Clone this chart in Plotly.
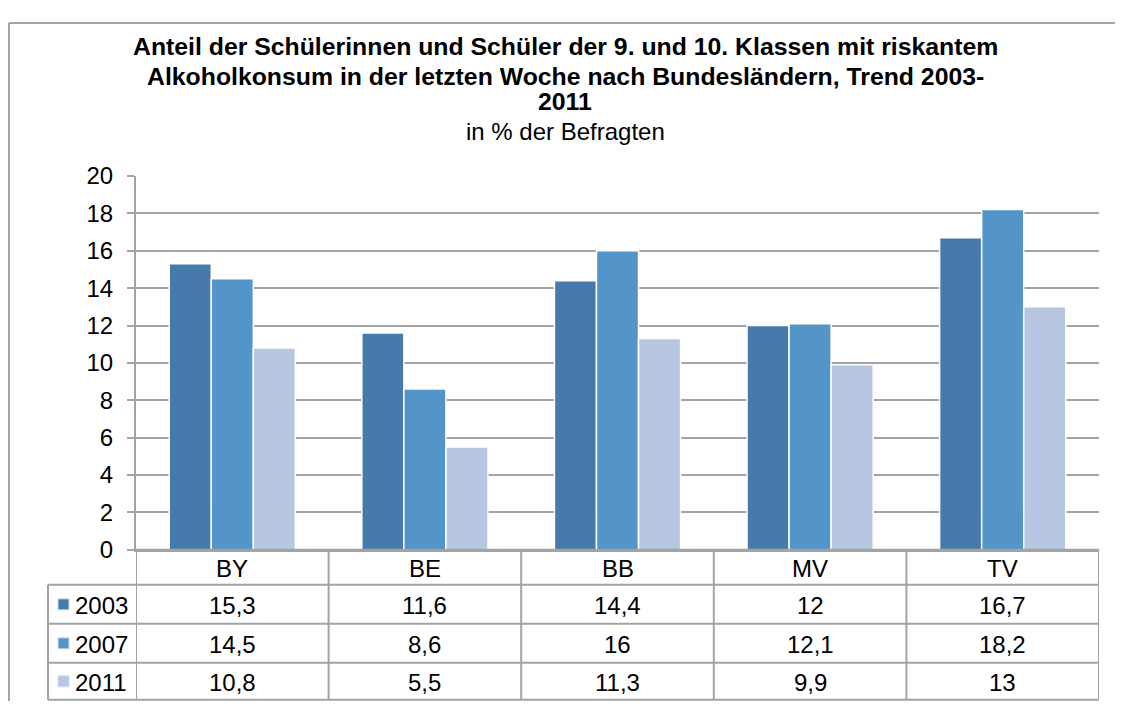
import plotly.graph_objects as go

# ---- data ----
categories = ["BY", "BE", "BB", "MV", "TV"]
years = ["2003", "2007", "2011"]
values_2003 = [15.3, 11.6, 14.4, 12.0, 16.7]
values_2007 = [14.5, 8.6, 16.0, 12.1, 18.2]
values_2011 = [10.8, 5.5, 11.3, 9.9, 13.0]
series = [values_2003, values_2007, values_2011]
colors = ["#457AAA", "#5394C9", "#B7C7E1"]

title_lines = [
    "Anteil der Schülerinnen und Schüler der 9. und 10. Klassen mit riskantem",
    "Alkoholkonsum in der letzten Woche nach Bundesländern, Trend 2003-",
    "2011",
]
subtitle = "in % der Befragten"

# figure size and how it lands in the photographed page
W, H = 1107, 706
OFFX = 8
OFFY, SY = 21.0, 0.962
FONT = "Liberation Sans"
GRID = "#A3A3A3"


def px(x):
    return (x - OFFX) / W


def py(y):
    return 1 - ((y - OFFY) / SY) / H


def fmt(v):
    return f"{v:g}".replace(".", ",")


fig = go.Figure()
for yr, vals, col in zip(years, series, colors):
    fig.add_trace(go.Bar(
        x=categories, y=vals, name=yr,
        marker=dict(color=col, line=dict(color="white", width=1.5)),
        showlegend=False,
    ))

# geometry measured on the reference picture (pixels)
X0, X1 = 136, 1099
Y_TOP, Y_ZERO = 175, 549
ROWS = [549, 584, 623, 662, 699]
LEG_X = 48

shapes = []
annotations = []

# outer frame (top and left)
shapes.append(dict(type="line", xref="paper", yref="paper", x0=px(OFFX + 1), x1=1,
                   y0=0.9985, y1=0.9985, line=dict(color="#A6A6A6", width=2)))
shapes.append(dict(type="line", xref="paper", yref="paper", x0=px(OFFX + 1), x1=px(OFFX + 1),
                   y0=0.9985, y1=0, line=dict(color="#A6A6A6", width=2)))

# data table: horizontal lines
for i, yy in enumerate(ROWS):
    xs = X0 if i == 0 else LEG_X
    shapes.append(dict(type="line", xref="paper", yref="paper", x0=px(xs), x1=px(X1),
                       y0=py(yy), y1=py(yy), line=dict(color=GRID, width=2)))
# vertical lines at category boundaries
for k in range(len(categories) + 1):
    shapes.append(dict(type="line", xref="x", yref="paper", x0=k - 0.5, x1=k - 0.5,
                       y0=py(ROWS[0]), y1=py(ROWS[-1]), line=dict(color=GRID, width=2)))
shapes.append(dict(type="line", xref="paper", yref="paper", x0=px(LEG_X), x1=px(LEG_X),
                   y0=py(ROWS[1]), y1=py(ROWS[-1]), line=dict(color=GRID, width=2)))

# header: category names
for c in categories:
    annotations.append(dict(xref="x", yref="paper", x=c, y=py((ROWS[0] + ROWS[1]) / 2 + 1),
                            text=c, showarrow=False, font=dict(size=24, color="black", family=FONT),
                            yanchor="middle", xanchor="center"))
# rows: legend key + values
for r, (yr, vals, col) in enumerate(zip(years, series, colors)):
    yc = (ROWS[r + 1] + ROWS[r + 2]) / 2
    shapes.append(dict(type="rect", xref="paper", yref="paper",
                       x0=px(58), x1=px(69), y0=py(yc - 5.5), y1=py(yc + 5.5),
                       fillcolor=col, line=dict(color="#D0DCEC", width=1)))
    annotations.append(dict(xref="paper", yref="paper", x=px(73), y=py(yc + 1), text=yr,
                            showarrow=False, xanchor="left", yanchor="middle",
                            font=dict(size=24, color="black", family=FONT)))
    for c, v in zip(categories, vals):
        annotations.append(dict(xref="x", yref="paper", x=c, y=py(yc + 1), text=fmt(v),
                                showarrow=False, xanchor="center", yanchor="middle",
                                font=dict(size=24, color="black", family=FONT)))

# titles
for t, yy in zip(title_lines, [46, 76, 101]):
    annotations.append(dict(xref="paper", yref="paper", x=px(565), y=py(yy), text=f"<b>{t}</b>",
                            showarrow=False, xanchor="center", yanchor="middle",
                            font=dict(size=24.8, color="black", family=FONT)))
annotations.append(dict(xref="paper", yref="paper", x=px(565), y=py(131), text=subtitle,
                        showarrow=False, xanchor="center", yanchor="middle",
                        font=dict(size=24, color="black", family=FONT)))

fig.update_layout(
    width=W, height=H,
    margin=dict(l=0, r=0, t=0, b=0),
    paper_bgcolor="white", plot_bgcolor="white",
    barmode="group", bargap=0.345, bargroupgap=0,
    shapes=shapes, annotations=annotations,
    xaxis=dict(domain=[px(X0), px(X1)], range=[-0.5, len(categories) - 0.5],
               showticklabels=False, showgrid=False, zeroline=False,
               showline=True, linecolor=GRID, linewidth=2, ticks=""),
    yaxis=dict(domain=[py(Y_ZERO), py(Y_TOP)], range=[0, 20], dtick=2,
               showgrid=True, gridcolor=GRID, gridwidth=2, zeroline=False,
               showline=True, linecolor=GRID, linewidth=2,
               ticks="outside", ticklen=7, tickwidth=2, tickcolor=GRID,
               ticklabelstandoff=9,
               tickfont=dict(size=24, color="black", family=FONT)),
    font=dict(family=FONT),
)

fig.write_html("out.html")
